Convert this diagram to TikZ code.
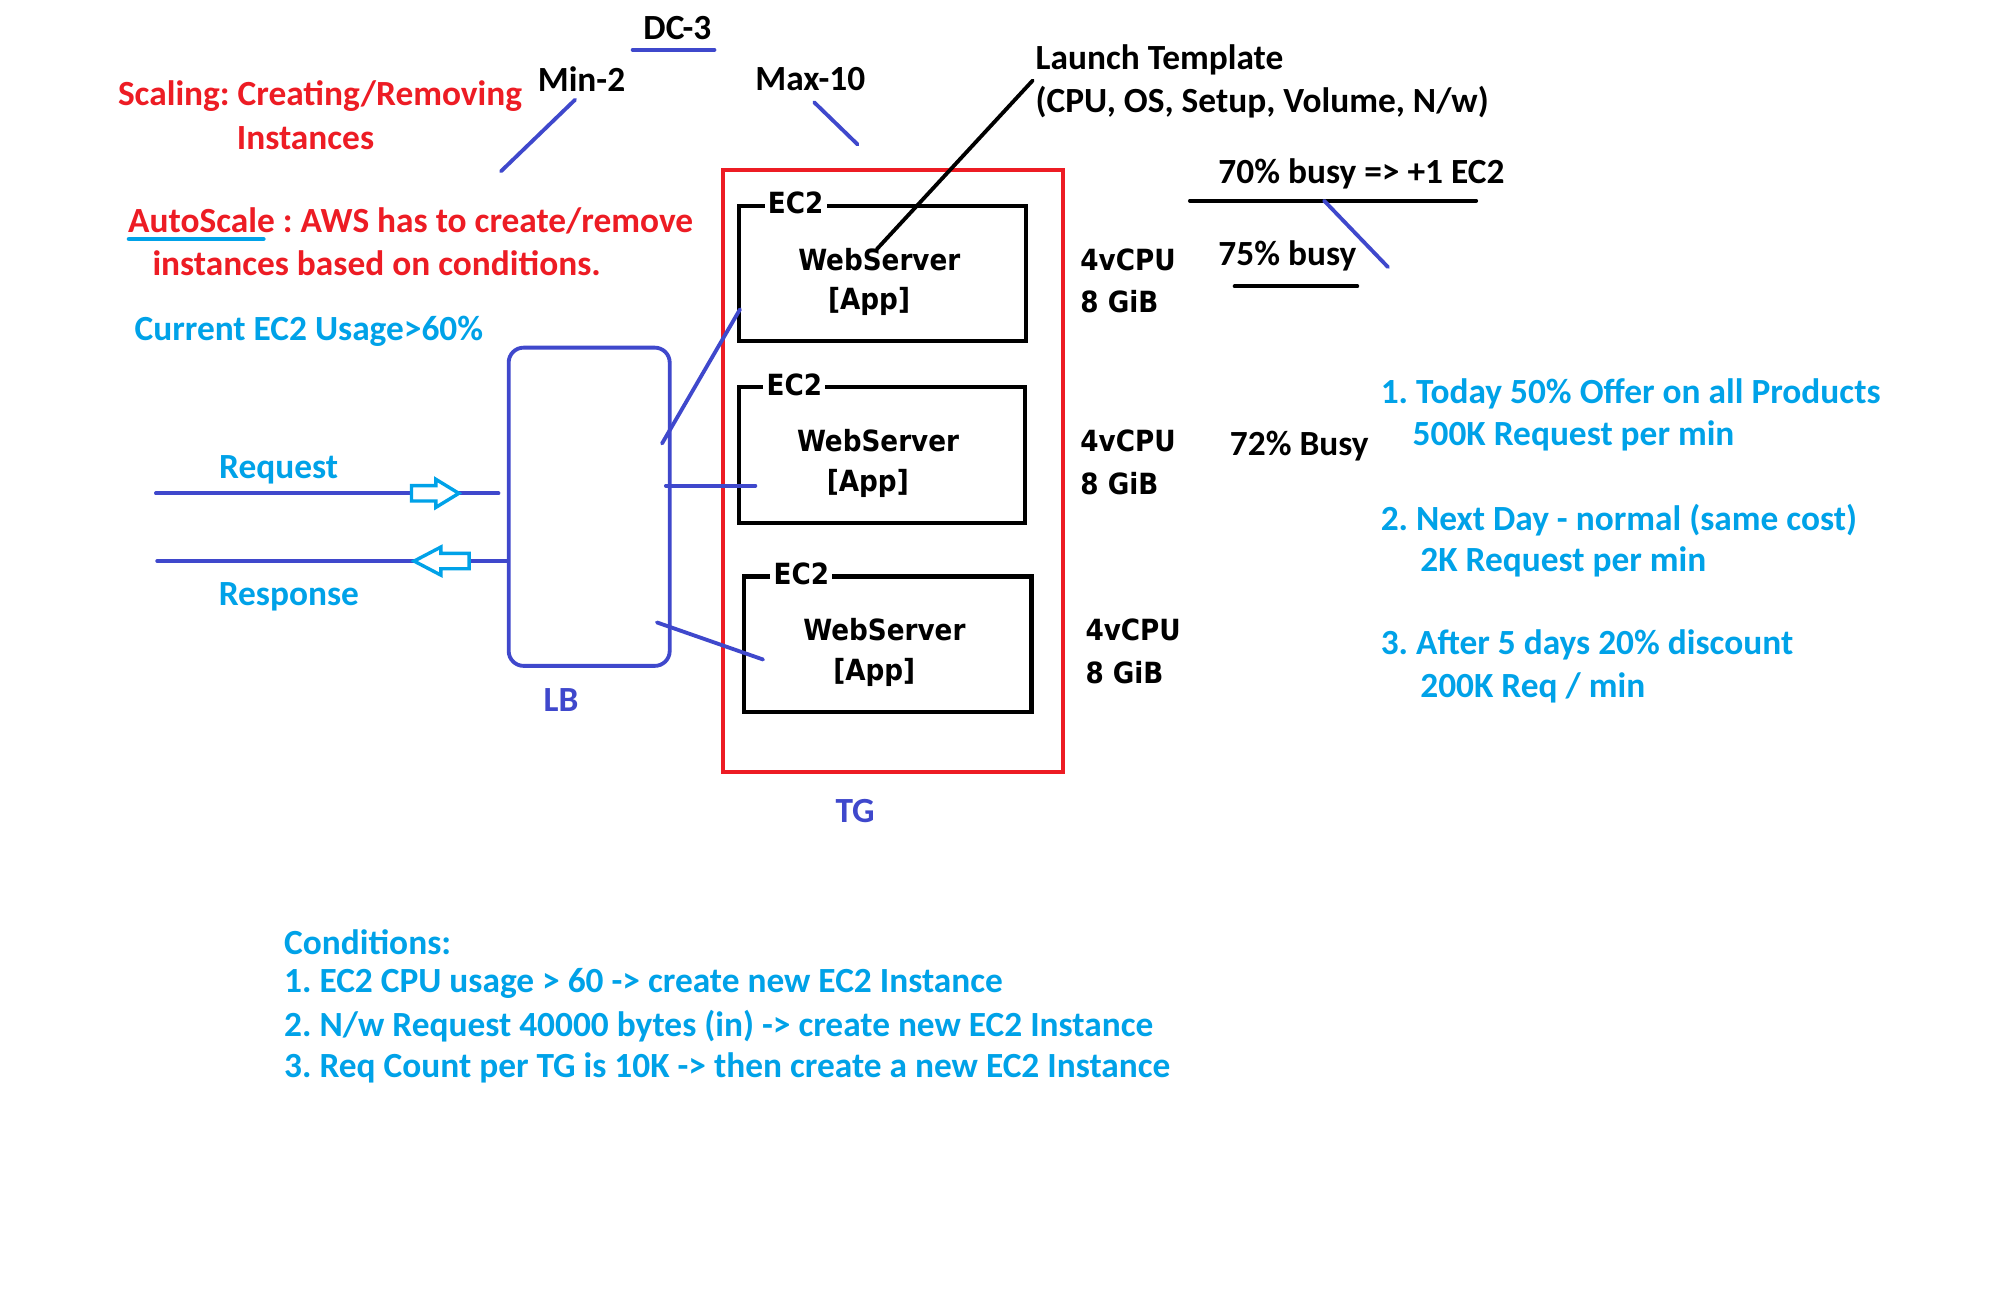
\documentclass[tikz,border=0pt]{standalone}
\usepackage{fontspec}
\newfontfamily\calib{Carlito}
\newfontfamily\dvs{DejaVu Sans Condensed}
\definecolor{cred}{HTML}{ED1C24}
\definecolor{cblue}{HTML}{3F48CC}
\definecolor{ccyan}{HTML}{00A2E8}
\frenchspacing
\begin{document}
\begin{tikzpicture}[x=0.6pt,y=-0.6pt,
  txt/.style={font=\calib\bfseries\fontsize{16.6}{19.8}\selectfont, inner sep=0pt, yshift=-1.1pt},
  srv/.style={font=\dvs\bfseries\fontsize{13.7}{16}\selectfont, inner sep=0pt},
  redt/.style={txt, text=cred},
  cyant/.style={txt, text=ccyan},
  bluet/.style={txt, text=cblue},
  bline/.style={draw=cblue, line width=1.8pt, line cap=round},
  kline/.style={draw=black, line width=1.8pt, line cap=round},
  ec2box/.style={draw=black, line width=2pt, minimum width=135pt, minimum height=63.6pt, inner sep=0pt},
  ec2lab/.style={srv, fill=white, inner xsep=1.5pt, inner ysep=0pt},
  harrow/.style={draw=ccyan, fill=white, line width=1.6pt, line join=miter}
]
\useasboundingbox (0,0) rectangle (1568,1008);
\fill[white] (0,0) rectangle (1568,1008);

% top labels
\node[txt] (dc3) at (530,20) {DC-3};
\coordinate (dcA) at (495,39);
\coordinate (dcB) at (559,39);
\draw[bline] (dcA) -- (dcB);
\node[txt] (min2) at (455,60) {Min-2};
\node[txt] (max10) at (634,60) {Max-10};
\coordinate (minA) at (450,78);
\coordinate (minB) at (392,134);
\draw[bline] (minA) -- (minB);
\coordinate (maxA) at (637,80);
\coordinate (maxB) at (671,113);
\draw[bline] (maxA) -- (maxB);

\node[redt, anchor=west] (scal1) at (92,73) {Scaling: Creating/Removing};
\node[redt] (scal2) at (239,106) {Instances};
\node[redt, anchor=west] (auto1) at (100,171) {AutoScale : AWS has to create/remove};
\node[redt, anchor=west] (auto2) at (119,204) {instances based on conditions.};
\coordinate (auA) at (101,187);
\coordinate (auB) at (206,187);
\draw[draw=ccyan, line width=2.2pt, line cap=round] (auA) -- (auB);
\node[cyant, anchor=west] (cur) at (105,257) {Current EC2 Usage>60\%};

% launch template
\node[txt, anchor=west] (lt1) at (810,45) {Launch Template};
\node[txt, anchor=west] (lt2) at (810,78) {(CPU, OS, Setup, Volume, N/w)};

% TG box
\node[draw=cred, line width=1.8pt, minimum width=159.6pt, minimum height=282.6pt, inner sep=0pt] (tg) at (699,368.5) {};
\node[bluet] (tgl) at (669,633) {TG};

% EC2 boxes
\node[ec2box] (e1) at (690.5,214) {};
\node[ec2box, minimum width=134.4pt] (e2) at (690,356) {};
\node[ec2box] (e3) at (694.5,504) {};
\node[ec2lab] (e1l) at (622.5,159) {EC2};
\node[ec2lab] (e2l) at (621.5,301) {EC2};
\node[ec2lab] (e3l) at (627,449) {EC2};
\node[srv] (w1) at (688,203) {WebServer};
\node[srv] (a1) at (680,236) {[App]};
\node[srv] (w2) at (687,345) {WebServer};
\node[srv] (a2) at (679,378) {[App]};
\node[srv] (w3) at (692,493) {WebServer};
\node[srv] (a3) at (684,526) {[App]};

\coordinate (ltA) at (808,63);
\coordinate (ltB) at (686,195);
\draw[kline] (ltA) -- (ltB);

% specs
\node[srv, anchor=west] (c1) at (845,203) {4vCPU};
\node[srv, anchor=west] (m1) at (845,236) {8 GiB};
\node[srv, anchor=west] (c2) at (845,345) {4vCPU};
\node[srv, anchor=west] (m2) at (845,378) {8 GiB};
\node[srv, anchor=west] (c3) at (849,493) {4vCPU};
\node[srv, anchor=west] (m3) at (849,526) {8 GiB};

% busy notes
\node[txt, anchor=west] (b70) at (953,134) {70\% busy => +1 EC2};
\coordinate (k1A) at (931,157);
\coordinate (k1B) at (1155,157);
\draw[kline] (k1A) -- (k1B);
\coordinate (bbA) at (1036,157);
\coordinate (bbB) at (1086,209);
\draw[bline] (bbA) -- (bbB);
\node[txt, anchor=west] (b75) at (953,198) {75\% busy};
\coordinate (k2A) at (966,224);
\coordinate (k2B) at (1062,224);
\draw[kline] (k2A) -- (k2B);
\node[txt, anchor=west] (b72) at (962,347) {72\% Busy};

% right list
\node[cyant, anchor=west] (r1) at (1080,306) {1. Today 50\% Offer on all Products};
\node[cyant, anchor=west] (r1b) at (1105,339) {500K Request per min};
\node[cyant, anchor=west] (r2) at (1080,405) {2. Next Day - normal (same cost)};
\node[cyant, anchor=west] (r2b) at (1111,438) {2K Request per min};
\node[cyant, anchor=west] (r3) at (1080,503) {3. After 5 days 20\% discount};
\node[cyant, anchor=west] (r3b) at (1111,536) {200K Req / min};

% LB
\node[draw=cblue, line width=1.8pt, rounded corners=7pt, minimum width=75.6pt, minimum height=149.4pt, inner sep=0pt] (lb) at (461,396.5) {};
\node[bluet] (lbl) at (439,546) {LB};

% LB to EC2 connectors
\coordinate (l1A) at (518,347);
\coordinate (l1B) at (579,242);
\draw[bline] (l1A) -- (l1B);
\coordinate (l2A) at (521,380);
\coordinate (l2B) at (591,380);
\draw[bline] (l2A) -- (l2B);
\coordinate (l3A) at (514,487);
\coordinate (l3B) at (597,516);
\draw[bline] (l3A) -- (l3B);

% request / response
\coordinate (rqA) at (122,386);
\coordinate (rqB) at (390,386);
\draw[bline] (rqA) -- (rqB);
\draw[harrow] (322,380) -- (341,380) -- (341,375) -- (359,386) -- (341,397) -- (341,392) -- (322,392) -- cycle;
\node[cyant] (req) at (218,366) {Request};
\coordinate (rsA) at (123,439);
\coordinate (rsB) at (lb.west |- 0,439);
\draw[bline] (rsA) -- (rsB);
\draw[harrow] (324,439) -- (345,428) -- (345,433) -- (367,433) -- (367,445) -- (345,445) -- (345,450) -- cycle;
\node[cyant] (resp) at (226,465) {Response};

% conditions
\node[cyant, anchor=west] (cd0) at (222,735) {Conditions:};
\node[cyant, anchor=west] (cd1) at (222,768) {1. EC2 CPU usage > 60 -> create new EC2 Instance};
\node[cyant, anchor=west] (cd2) at (222,801) {2. N/w Request 40000 bytes (in) -> create new EC2 Instance};
\node[cyant, anchor=west] (cd3) at (222,834) {3. Req Count per TG is 10K -> then create a new EC2 Instance};
\end{tikzpicture}
\end{document}
